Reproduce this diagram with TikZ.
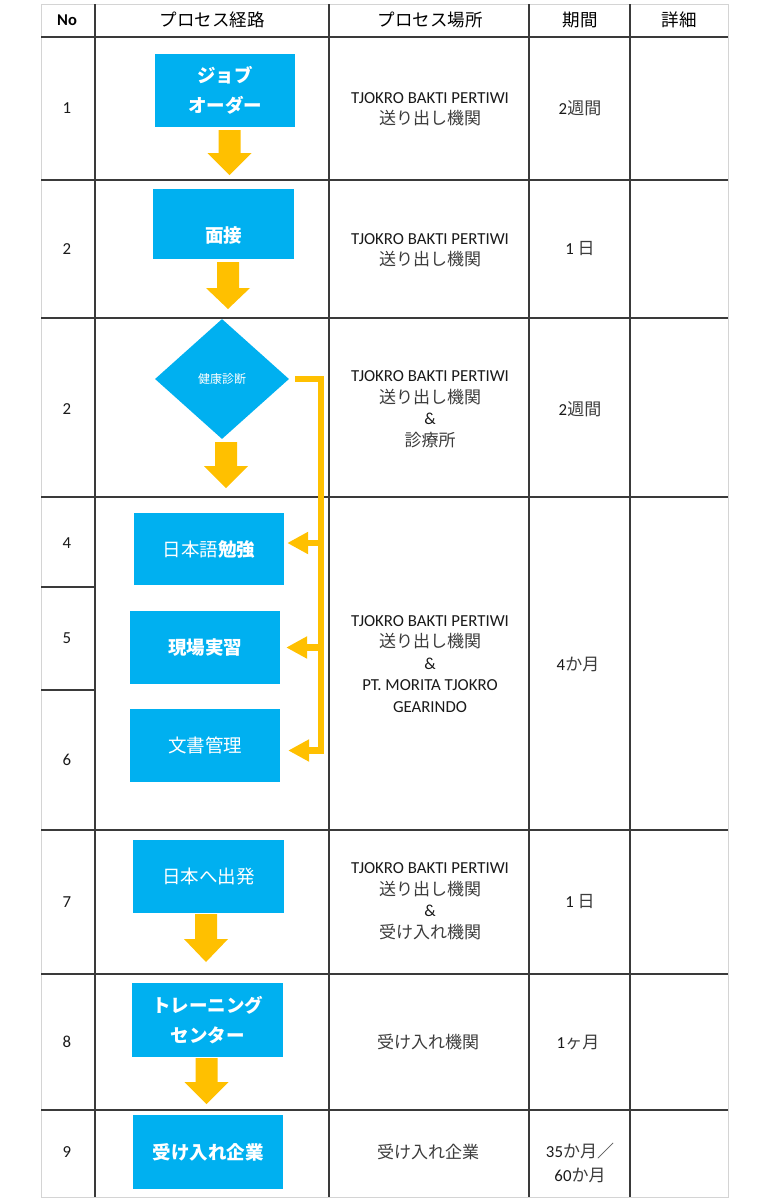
\documentclass[tikz,border=0pt]{standalone}
\usepackage{fontspec}
\setmainfont{Carlito}
\newfontfamily\jp{Noto Sans CJK JP}
\usetikzlibrary{shapes.geometric,arrows.meta}
\definecolor{boxblue}{HTML}{00B0F0}
\definecolor{arrowc}{HTML}{FFC000}
\definecolor{gridc}{HTML}{3A3A3A}
\definecolor{edgec}{HTML}{D4D4D4}
\definecolor{txt}{HTML}{1A1A1A}
\definecolor{jptxt}{HTML}{3C3C3C}
\newcommand\jpt[1]{{\jp\fontsize{17}{21.5}\selectfont\color{jptxt}#1}}
\newcommand\blkarr[4]{%
  \fill[arrowc] (#1-11,#2) -- (#1+11,#2) -- (#1+11,#3) -- (#1+22,#3) -- (#1,#4)
     -- (#1-22,#3) -- (#1-11,#3) -- cycle;}
\begin{document}
\begin{tikzpicture}[x=1pt,y=-1pt,
  edgeline/.style={draw=edgec, line width=1pt},
  colline/.style={draw=gridc, line width=1.4pt},
  rowline/.style={draw=gridc, line width=1.8pt},
  cellt/.style={align=center, inner sep=0pt, text=txt, font=\fontsize{16.8}{21.5}\selectfont},
  hdr/.style={align=center, inner sep=0pt, text=black, font=\fontsize{17.5}{20}\selectfont},
  flowbox/.style={fill=boxblue, text=white, inner sep=0pt, align=center,
     font=\jp\fontsize{18.5}{30}\selectfont},
  brk/.style={draw=arrowc, line width=6.5pt, line join=miter},
  brkarr/.style={brk, -{Triangle[length=21pt,width=21pt]}}]
\useasboundingbox (0,0) rectangle (768,1200);
\fill[white] (0,0) rectangle (768,1200);

% ---------- table grid ----------
\draw[edgeline] (41,4) rectangle (728,1197);
\foreach \x in {95,329,529,630} \draw[colline] (\x,4) -- (\x,1197);
\foreach \y in {37,180,318,497,830,974,1110} \draw[rowline] (41,\y) -- (728,\y);
\foreach \y in {587,690} \draw[rowline] (41,\y) -- (95,\y);

% ---------- header ----------
\node[hdr, font=\bfseries\fontsize{16.5}{20}\selectfont] (hno) at (67,20) {No};
\node[hdr] (hpath) at (212,20) {{\jp プロセス経路}};
\node[hdr] (hplace) at (430,20) {{\jp プロセス場所}};
\node[hdr] (hterm) at (580,20) {{\jp 期間}};
\node[hdr] (hdet) at (679,20) {{\jp 詳細}};

% ---------- No column ----------
\node[cellt] (n1) at (67,108) {1};
\node[cellt] (n2) at (67,249) {2};
\node[cellt] (n3) at (67,409) {2};
\node[cellt] (n4) at (67,543) {4};
\node[cellt] (n5) at (67,638) {5};
\node[cellt] (n6) at (67,760) {6};
\node[cellt] (n7) at (67,902) {7};
\node[cellt] (n8) at (67,1042) {8};
\node[cellt] (n9) at (67,1152) {9};

% ---------- location column ----------
\node[cellt] (l1) at (430,109) {TJOKRO BAKTI PERTIWI\\\jpt{送り出し機関}};
\node[cellt] (l2) at (430,250) {TJOKRO BAKTI PERTIWI\\\jpt{送り出し機関}};
\node[cellt] (l3) at (430,409) {TJOKRO BAKTI PERTIWI\\\jpt{送り出し機関}\\\&\\\jpt{診療所}};
\node[cellt] (l4) at (430,664) {TJOKRO BAKTI PERTIWI\\\jpt{送り出し機関}\\\&\\PT. MORITA TJOKRO\\GEARINDO};
\node[cellt] (l7) at (430,901) {TJOKRO BAKTI PERTIWI\\\jpt{送り出し機関}\\\&\\\jpt{受け入れ機関}};
\node[cellt] (l8) at (428,1042) {\jpt{受け入れ機関}};
\node[cellt] (l9) at (428,1152) {\jpt{受け入れ企業}};

% ---------- period column ----------
\node[cellt] (p1) at (580,108) {2\jpt{週間}};
\node[cellt] (p2) at (580,249) {1 \jpt{日}};
\node[cellt] (p3) at (580,409) {2\jpt{週間}};
\node[cellt] (p4) at (578,664) {4\jpt{か月}};
\node[cellt] (p7) at (580,902) {1 \jpt{日}};
\node[cellt] (p8) at (578,1042) {1\jpt{ヶ月}};
\node[cellt, font=\fontsize{16.8}{24}\selectfont] (p9) at (580,1163) {35\jpt{か月／}\\60\jpt{か月}};

% ---------- flow boxes ----------
\node[flowbox, minimum width=140, minimum height=73] (b1) at (225,90.5) {\bfseries ジョブ\\\bfseries オーダー};
\node[flowbox, minimum width=141, minimum height=70] (b2) at (223.5,224) {\smash{\raisebox{-18pt}{\bfseries 面接}}};
\node[diamond, fill=boxblue, text=white, minimum width=134, minimum height=120, inner sep=0pt,
      font=\jp\fontsize{12}{13}\selectfont] (dia) at (222,379) {健康診断};
\node[flowbox, minimum width=150, minimum height=72] (b4) at (209,549) {日本語{\bfseries 勉強}};
\node[flowbox, minimum width=150, minimum height=73] (b5) at (205,647.5) {\bfseries 現場実習};
\node[flowbox, minimum width=150, minimum height=73] (b6) at (205,745.5) {文書管理};
\node[flowbox, minimum width=151, minimum height=73] (b7) at (208.5,876.5) {日本へ出発};
\node[flowbox, minimum width=151, minimum height=74] (b8) at (207.5,1020) {\bfseries トレーニング\\\bfseries センター};
\node[flowbox, minimum width=150, minimum height=74] (b9) at (208,1152) {\bfseries 受け入れ企業};

% ---------- block arrows ----------
\blkarr{229.5}{130}{153}{175}
\blkarr{228}{262}{288}{309}
\blkarr{226}{442}{466}{488}
\blkarr{206}{914}{939}{962}
\blkarr{206.5}{1058}{1082}{1104}

% ---------- bracket connector ----------
\coordinate (bb) at (321,754);
\coordinate (t4) at ([xshift=3pt,yshift=6pt]b4.east);
\coordinate (t5) at ([xshift=6pt]b5.east);
\coordinate (t6) at ([xshift=8pt,yshift=-5pt]b6.east);
\draw[brk] ([xshift=6pt]dia.east) -| (bb);
\draw[brkarr] (t4 -| bb) -- (t4);
\draw[brkarr] (t5 -| bb) -- (t5);
\draw[brkarr] (t6 -| bb) -- (t6);
\end{tikzpicture}
\end{document}
